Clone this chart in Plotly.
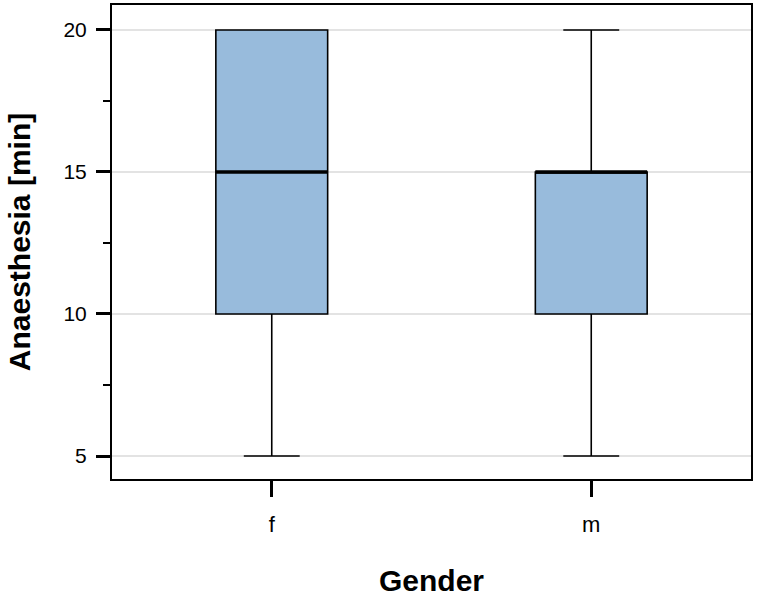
import plotly.graph_objects as go

categories = ["f", "m"]
positions = [0, 1]
lower = [5, 5]
q1 = [10, 10]
median = [15, 15]
q3 = [20, 15]
upper = [20, 20]
y_ticks = [5, 10, 15, 20]

box_width = 0.35
fill = "#98bbdc"

fig = go.Figure()
for i, cat in enumerate(categories):
    fig.add_trace(go.Box(
        x=[positions[i]], q1=[q1[i]], median=[median[i]], q3=[q3[i]],
        lowerfence=[lower[i]], upperfence=[upper[i]],
        width=box_width, whiskerwidth=0.5,
        fillcolor=fill, line=dict(color="black", width=1.6),
        name=cat, showlegend=False, hoverinfo="skip",
    ))
    fig.add_trace(go.Scatter(
        x=[positions[i] - box_width / 2, positions[i] + box_width / 2],
        y=[median[i], median[i]], mode="lines",
        line=dict(color="black", width=3.5), showlegend=False, hoverinfo="skip",
    ))

fig.update_layout(
    width=759, height=597,
    margin=dict(l=112, r=8, t=5, b=118),
    plot_bgcolor="white", paper_bgcolor="white",
    font=dict(family="Liberation Sans, Arial", color="black"),
    xaxis=dict(
        range=[-0.5, 1.5], tickvals=positions, ticktext=categories,
        showgrid=False, zeroline=False, automargin=False,
        showline=True, linecolor="black", linewidth=2, mirror=True,
        ticks="outside", ticklen=16, tickwidth=3, tickcolor="black",
        tickfont=dict(size=22), ticklabelstandoff=9,
        title=dict(text="<b>Gender</b>", font=dict(size=30), standoff=37),
    ),
    yaxis=dict(
        range=[4.19, 20.88], tickvals=y_ticks, automargin=False,
        showgrid=True, gridcolor="#e3e3e3", gridwidth=2, zeroline=False,
        showline=True, linecolor="black", linewidth=2, mirror=True,
        ticks="outside", ticklen=14, tickwidth=3, tickcolor="black",
        tickfont=dict(size=21), ticklabelstandoff=5,
        minor=dict(tickvals=[7.5, 12.5, 17.5], ticks="outside", ticklen=7,
                   tickwidth=2, tickcolor="black", showgrid=False),
        title=dict(text="<b>Anaesthesia [min]</b>", font=dict(size=30), standoff=24),
    ),
)

fig.write_html("out.html", config={"displayModeBar": False},
               post_script="document.body.style.margin='0px';")
